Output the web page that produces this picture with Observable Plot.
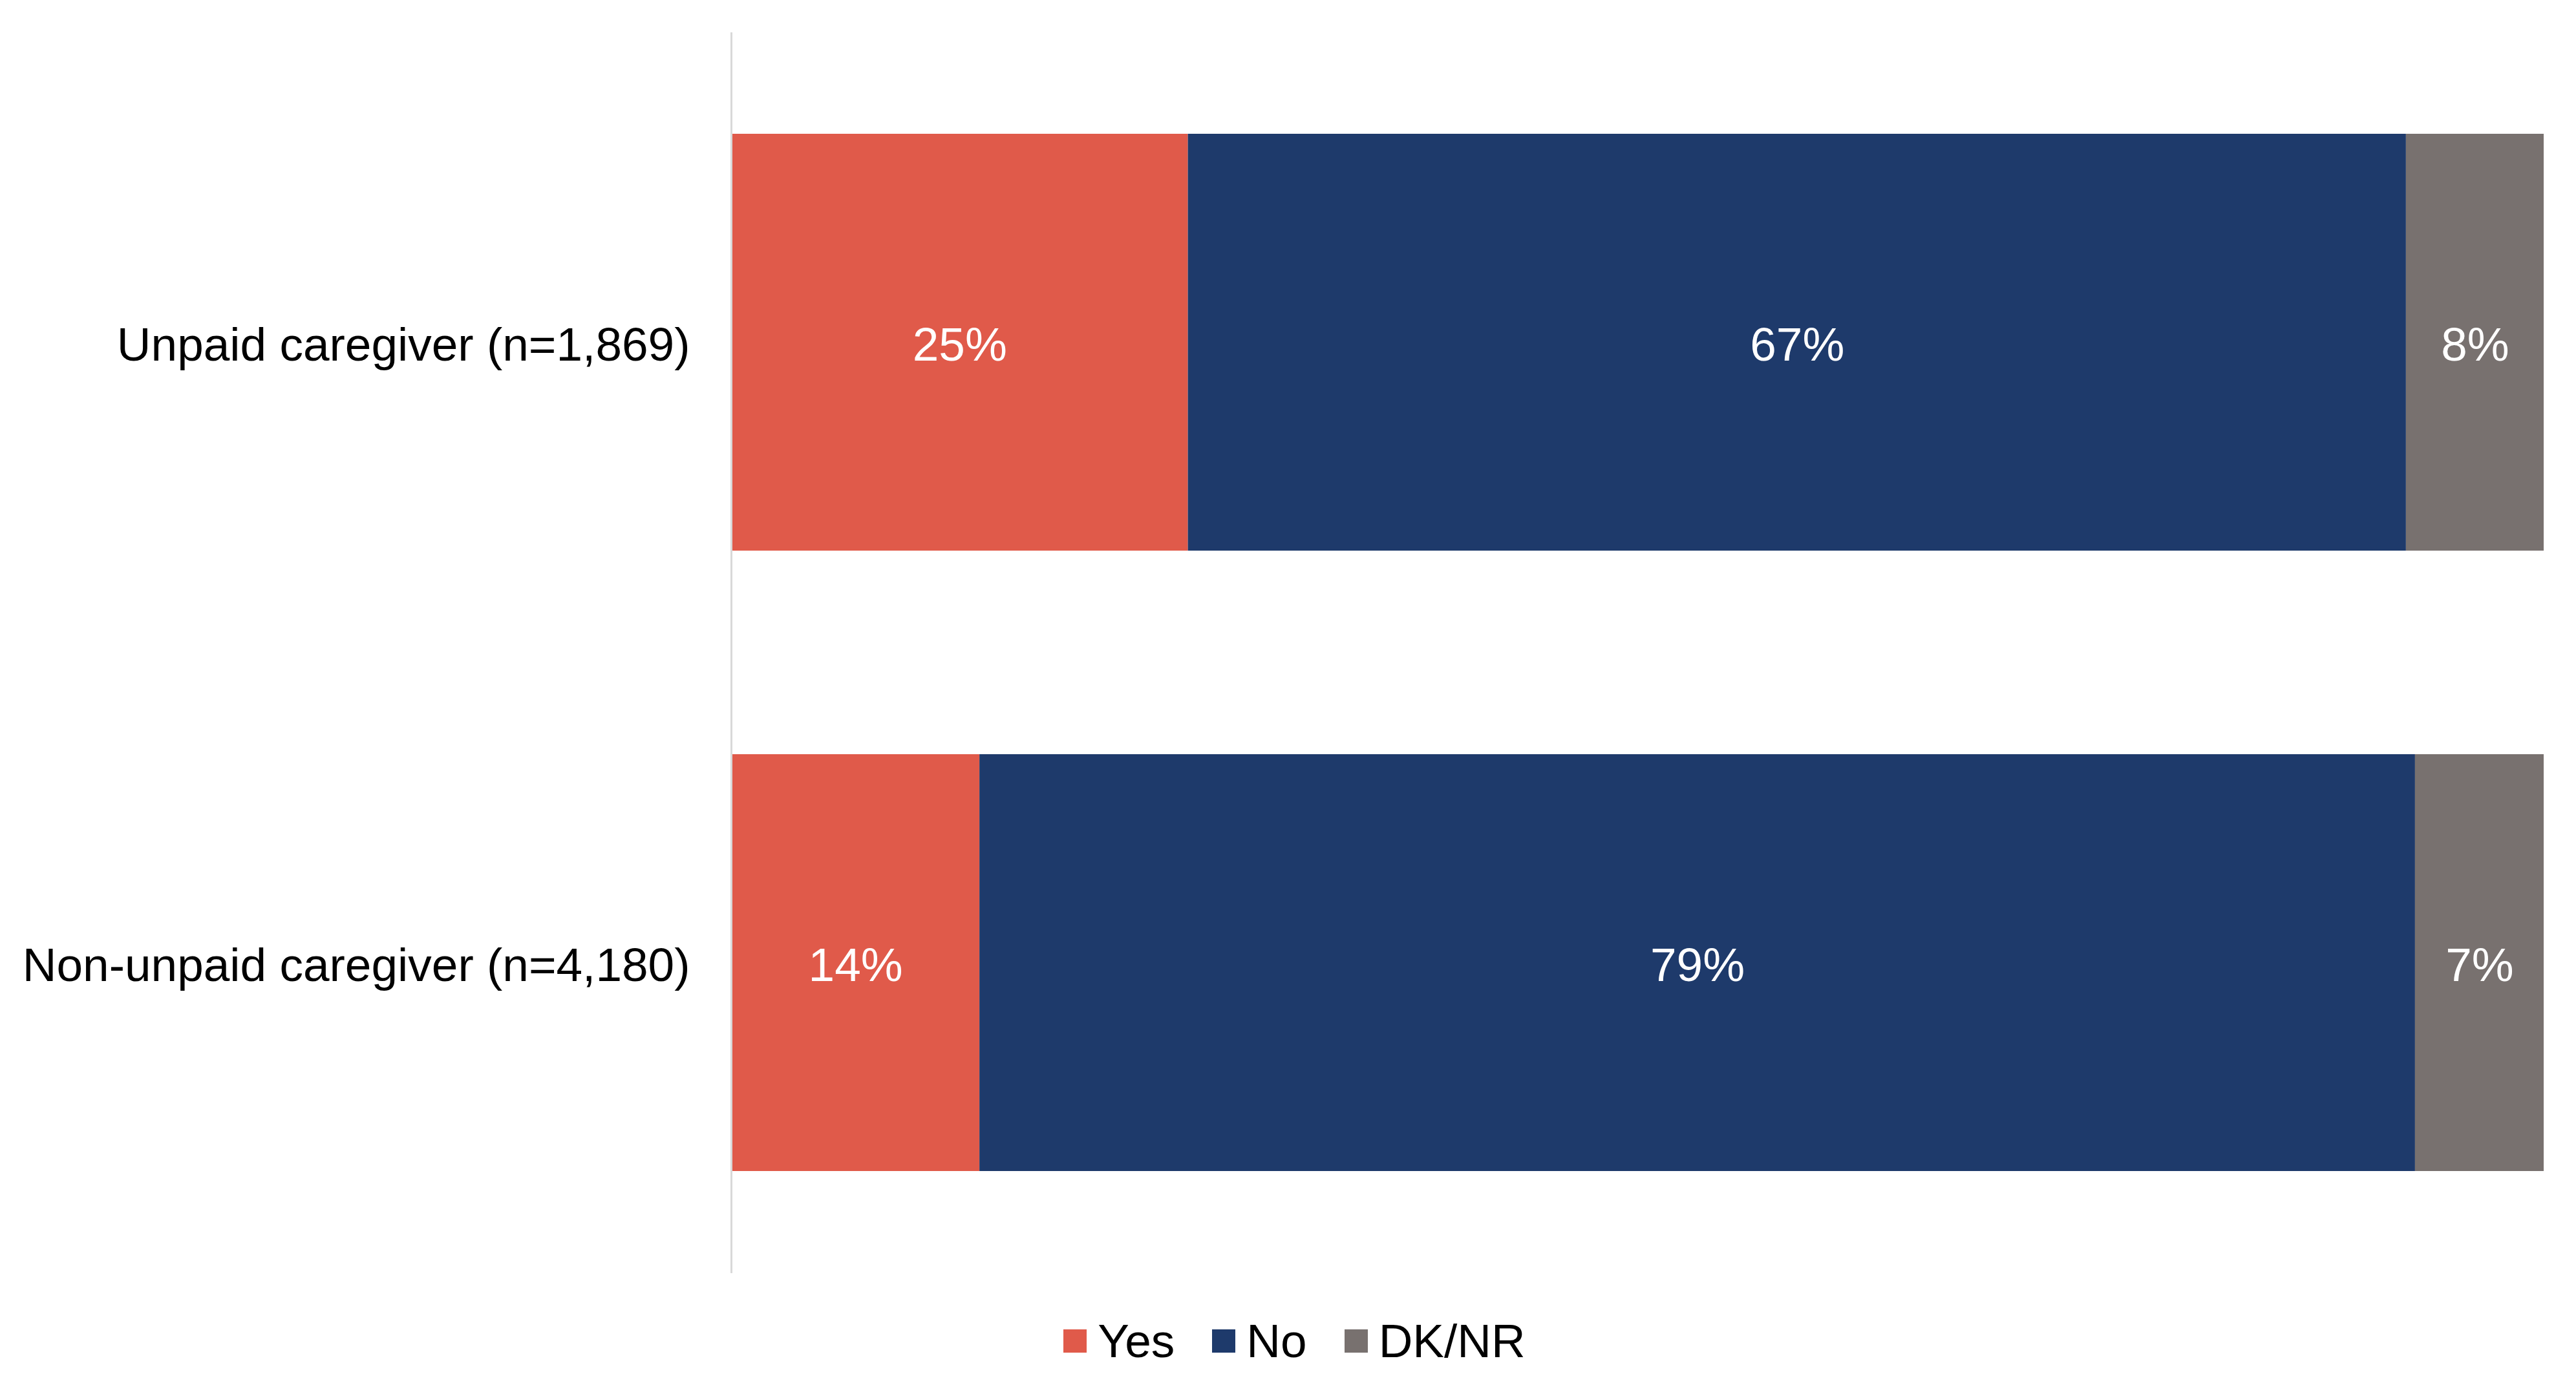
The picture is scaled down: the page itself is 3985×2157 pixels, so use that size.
<!DOCTYPE html>
<html>
<head>
<meta charset="utf-8">
<script src="https://cdn.jsdelivr.net/npm/d3@7"></script>
<script src="https://cdn.jsdelivr.net/npm/@observablehq/plot@0.6"></script>
<style>
  html, body { margin: 0; padding: 0; background: #fff; }
  body { width: 3985px; height: 2157px; overflow: hidden; font-family: "Liberation Sans", Arial, sans-serif; }
  #legend { display: flex; justify-content: center; align-items: center; width: 3985px; margin-top: 33px; padding-left: 20px; box-sizing: border-box; font-size: 73px; color: #000; }
  .item { display: flex; align-items: center; margin-right: 58px; }
  .item:last-child { margin-right: 0; }
  .sw { width: 36px; height: 36px; margin-right: 17px; }
</style>
</head>
<body>
<div id="chart"></div>
<div id="legend"></div>
<script>
const categories = ["Unpaid caregiver (n=1,869)", "Non-unpaid caregiver (n=4,180)"];
const responses = ["Yes", "No", "DK/NR"];
const yesValues = [25.2, 13.7];
const noValues = [67.2, 79.2];
const dkValues = [7.6, 7.1];
const colors = ["#E05A4A", "#1E3A6B", "#78716F"];

const series = [yesValues, noValues, dkValues];
const data = [];
categories.forEach((c, i) => {
  responses.forEach((r, j) => {
    data.push({category: c, response: r, value: series[j][i]});
  });
});

const stackOpts = {x: "value", y: "category", z: "response", order: responses};

const chart = Plot.plot({
  width: 3985,
  height: 2000,
  marginLeft: 1131,
  marginRight: 50,
  marginTop: 50,
  marginBottom: 30,
  style: {fontFamily: "'Liberation Sans', Arial, sans-serif", fontSize: "73px", background: "#fff"},
  x: {domain: [0, 100], axis: null},
  y: {domain: categories, paddingInner: 0.328, paddingOuter: 0.164, label: null, tickSize: 0, tickPadding: 64},
  color: {domain: responses, range: colors},
  marks: [
    Plot.barX(data, Plot.stackX({...stackOpts, fill: "response"})),
    Plot.ruleX([0], {stroke: "#d9d9d9", strokeWidth: 3}),
    Plot.text(data, Plot.stackX({...stackOpts, text: d => Math.round(d.value) + "%", fill: "#fff", fontSize: 73, dy: 5})),
    Plot.axisY({tickSize: 0, tickPadding: 64, fontSize: 73, fill: "#000", label: null, dy: 5})
  ]
});
document.getElementById("chart").appendChild(chart);

const legend = document.getElementById("legend");
responses.forEach((r, i) => {
  const item = document.createElement("div");
  item.className = "item";
  const sw = document.createElement("div");
  sw.className = "sw";
  sw.style.background = colors[i];
  const lab = document.createElement("span");
  lab.textContent = r;
  item.appendChild(sw);
  item.appendChild(lab);
  legend.appendChild(item);
});
</script>
</body>
</html>
